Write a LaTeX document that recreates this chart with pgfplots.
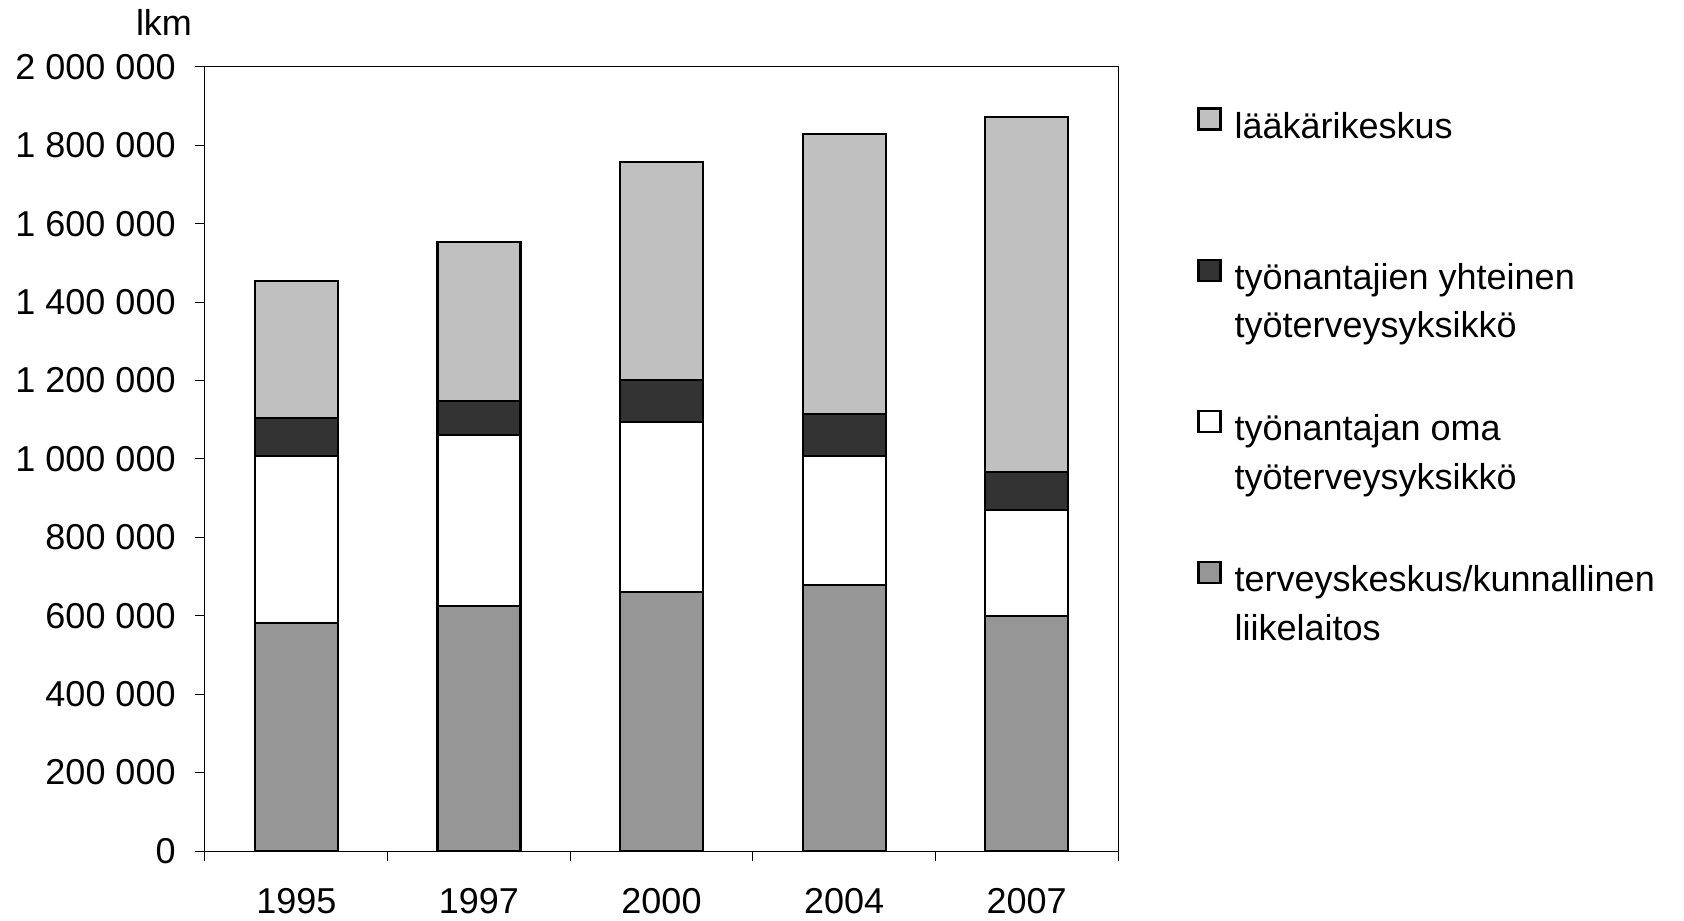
\documentclass[border=0pt]{standalone}
\usepackage{fontspec}
\setmainfont{Liberation Sans}
\usepackage{pgfplots}
\pgfplotsset{compat=1.18}

\definecolor{laak}{HTML}{C0C0C0}
\definecolor{yht}{HTML}{333333}
\definecolor{terv}{HTML}{969696}

\pgfplotsset{
  legsq/.style={legend image code/.code={\draw[##1, draw=black, line width=1.1pt] (0pt,0pt) rectangle (11pt,10.5pt);}},
}

\begin{document}
\fontsize{18}{21.5}\selectfont
\begin{tikzpicture}
\begin{axis}[
    scale only axis,
    width=456.5pt, height=392pt,
    ybar stacked, bar width=41.5pt,
    xmin=-0.5, xmax=4.5,
    ymin=0, ymax=2000000,
    clip=false,
    axis line style={line width=0.5pt},
    tick style={line width=0.5pt, black},
    tick align=outside, tick pos=left,
    major tick length=5pt,
    xtick={-0.5,0.5,1.5,2.5,3.5,4.5}, xticklabels={},
    extra x ticks={0,1,2,3,4},
    extra x tick labels={1995,1997,2000,2004,2007},
    extra x tick style={major tick length=0pt, xticklabel style={yshift=-12.6pt}},
    ytick={0,200000,400000,600000,800000,1000000,1200000,1400000,1600000,1800000,2000000},
    yticklabels={0,200 000,400 000,600 000,800 000,1 000 000,1 200 000,1 400 000,1 600 000,1 800 000,2 000 000},
    yticklabel style={xshift=-3.5pt},
    scaled y ticks=false,
    every axis plot/.append style={draw=black, line width=1.1pt},
    legend cell align=left,
    legend style={draw=none, fill=none, inner sep=0pt, at={(1,1)}, anchor=north west,
        xshift=39.5pt, yshift=-20pt, column sep=6.5pt, row sep=8.17pt,
        nodes={text height=12.5pt, text depth=3.5pt, inner sep=0pt}},
]
\coordinate (O) at (rel axis cs:0,0);

\addlegendimage{legsq, fill=laak}  \addlegendentry{lääkärikeskus}
\addlegendimage{empty legend}      \addlegendentry{\mbox{}}
\addlegendimage{empty legend}      \addlegendentry{\mbox{}}
\addlegendimage{legsq, fill=yht}   \addlegendentry{työnantajien yhteinen}
\addlegendimage{empty legend}      \addlegendentry{työterveysyksikkö}
\addlegendimage{empty legend}      \addlegendentry{\mbox{}}
\addlegendimage{legsq, fill=white} \addlegendentry{työnantajan oma}
\addlegendimage{empty legend}      \addlegendentry{työterveysyksikkö}
\addlegendimage{empty legend}      \addlegendentry{\mbox{}}
\addlegendimage{legsq, fill=terv}  \addlegendentry{terveyskeskus/kunnallinen}
\addlegendimage{empty legend}      \addlegendentry{liikelaitos}

% terveyskeskus/kunnallinen liikelaitos
\addplot[fill=terv, forget plot] coordinates {(0,582400) (1,625800) (2,661500) (3,678600) (4,600300)};
% tyonantajan oma
\addplot[fill=white, forget plot] coordinates {(0,426000) (1,435400) (2,433700) (3,329800) (4,269600)};
% tyonantajien yhteinen
\addplot[fill=yht, forget plot] coordinates {(0,97000) (1,87500) (2,106300) (3,106400) (4,96200)};
% laakarikeskus
\addplot[fill=laak, forget plot] coordinates {(0,347900) (1,405600) (2,556900) (3,714300) (4,905600)};

\node[anchor=base, xshift=-20.5pt, yshift=15.8pt] at (rel axis cs:0,1) {lkm};
\end{axis}
\pgfresetboundingbox
\path (O) ++(-102.5pt,-34.5pt) rectangle ++(842pt,460pt);
\end{tikzpicture}
\end{document}
